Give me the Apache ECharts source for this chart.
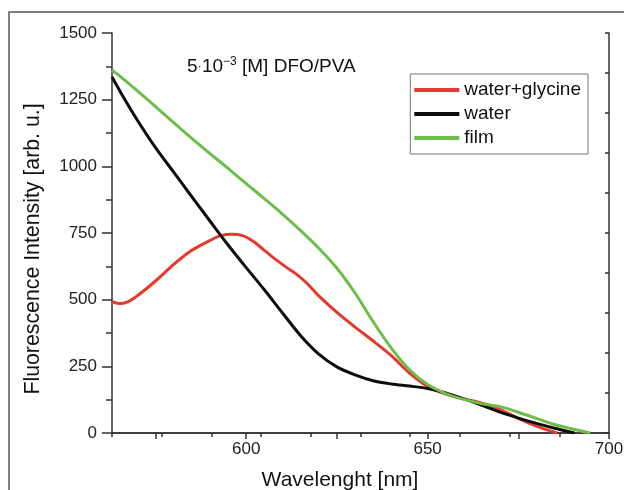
<!DOCTYPE html>
<html>
<head>
<meta charset="utf-8">
<script src="https://cdn.jsdelivr.net/npm/echarts@6/dist/echarts.min.js"></script>
<style>
  html, body { margin: 0; padding: 0; background: #fff; }
  #chart { width: 624px; height: 490px; }
</style>
</head>
<body>
<div id="chart"></div>
<script>
// values
const seriesNames = ['water+glycine', 'water', 'film'];

const glycineX = [563, 565, 567, 570, 575, 580, 585, 590, 593, 596, 599, 602, 605, 608, 611, 614, 617, 620, 625, 630, 635, 640, 645, 650, 655, 660, 665, 670, 675, 680, 685.7];
const glycineY = [492, 486, 490, 515, 570, 632, 685, 722, 740, 745, 740, 718, 685, 652, 622, 594, 558, 514, 452, 397, 345, 290, 225, 175, 146, 128, 112, 88, 55, 26, 0];

const waterX = [563, 566, 570, 575, 580, 585, 590, 595, 600, 605, 610, 615, 620, 625, 630, 635, 640, 645, 650, 655, 660, 665, 670, 675, 680, 685, 690.5];
const waterY = [1335, 1263, 1173, 1070, 978, 886, 795, 705, 620, 537, 450, 365, 296, 248, 218, 196, 184, 176, 167, 150, 128, 104, 78, 56, 36, 18, 0];

const filmX = [563, 565, 570, 575, 580, 585, 590, 595, 600, 605, 610, 615, 620, 625, 630, 635, 640, 645, 650, 655, 660, 665, 670, 675, 680, 685, 690, 694.8];
const filmY = [1362, 1340, 1283, 1224, 1164, 1105, 1048, 992, 935, 879, 821, 759, 693, 618, 525, 417, 318, 237, 182, 148, 126, 110, 99, 78, 55, 32, 15, 0];

const xTickValues = [575, 600, 625, 650, 675, 700];
const xLabelValues = [600, 650, 700];

const colors = ['#e5392e', '#0d0d0d', '#6cbd4a'];

const pairs = (xs, ys) => xs.map((x, i) => [x, ys[i]]);
const seriesData = [pairs(glycineX, glycineY), pairs(waterX, waterY), pairs(filmX, filmY)];

const chart = echarts.init(document.getElementById('chart'));
const fontFamily = '"Liberation Sans", Arial, sans-serif';
const axisColor = '#333';

const option = {
  backgroundColor: '#fff',
  animation: false,
  textStyle: { fontFamily: fontFamily },
  grid: { left: 112, right: 15, top: 33, bottom: 57, outerBoundsMode: 'none' },
  legend: {
    data: seriesNames,
    orient: 'vertical',
    right: 36,
    top: 74,
    icon: 'rect',
    itemWidth: 45,
    itemHeight: 4,
    itemGap: 4,
    padding: [6, 7, 6, 4],
    borderColor: '#777',
    borderWidth: 1,
    textStyle: { fontSize: 19, color: '#111', lineHeight: 20 }
  },
  graphic: [
    {
      type: 'rect',
      shape: { x: 9, y: 12, width: 700, height: 600 },
      style: { fill: 'none', stroke: '#555', lineWidth: 1.5 },
      silent: true
    },
    {
      type: 'text',
      left: 187,
      top: 56,
      style: {
        text: '5{dot|·}10{sup|−3} [M] DFO/PVA',
        font: '19px ' + fontFamily,
        fill: '#111',
        rich: {
          dot: { fontSize: 13, fill: '#111' },
          sup: { fontSize: 12, fill: '#111', verticalAlign: 'top', padding: [0, 0, 9, 0] }
        }
      }
    }
  ],
  xAxis: [
    {
      type: 'value',
      min: 563,
      max: 700,
      position: 'bottom',
      name: 'Wavelenght [nm]',
      nameLocation: 'middle',
      nameGap: 37,
      nameTextStyle: { fontSize: 21, color: '#111', padding: [0, 41, 0, 0] },
      axisLine: { show: true, lineStyle: { color: axisColor, width: 1.5 } },
      axisTick: { show: true, length: 6, customValues: xTickValues, lineStyle: { color: axisColor, width: 1.5 } },
      axisLabel: { customValues: xLabelValues, fontSize: 17, color: '#222', margin: 8 },
      splitLine: { show: false }
    },
    {
      type: 'value',
      min: 0,
      max: 10,
      interval: 1,
      position: 'top',
      axisLine: { show: true, lineStyle: { color: axisColor, width: 1.5 } },
      axisTick: { show: true, inside: true, length: 4, lineStyle: { color: axisColor, width: 1.5 } },
      axisLabel: { show: false },
      splitLine: { show: false }
    }
  ],
  yAxis: [
    {
      type: 'value',
      min: 0,
      max: 1500,
      interval: 250,
      position: 'left',
      name: 'Fluorescence Intensity [arb. u.]',
      nameLocation: 'middle',
      nameGap: 68,
      nameTextStyle: { fontSize: 21.3, color: '#111', padding: [0, 32, 0, 0] },
      axisLine: { show: true, lineStyle: { color: axisColor, width: 1.5 } },
      axisTick: { show: true, length: 10, lineStyle: { color: axisColor, width: 1.5 } },
      minorTick: { show: true, splitNumber: 2, length: 6, lineStyle: { color: axisColor, width: 1.5 } },
      axisLabel: { fontSize: 17, color: '#222', margin: 15, formatter: v => String(v) },
      splitLine: { show: false },
      minorSplitLine: { show: false }
    },
    {
      type: 'value',
      min: 0,
      max: 10,
      interval: 1,
      position: 'right',
      axisLine: { show: true, lineStyle: { color: axisColor, width: 1.5 } },
      axisTick: { show: true, inside: true, length: 4, lineStyle: { color: axisColor, width: 1.5 } },
      axisLabel: { show: false },
      splitLine: { show: false }
    }
  ],
  series: seriesNames.map((name, i) => ({
    name: name,
    type: 'line',
    xAxisIndex: 0,
    yAxisIndex: 0,
    data: seriesData[i],
    smooth: 0.3,
    showSymbol: false,
    color: colors[i],
    lineStyle: { width: 3, color: colors[i] },
    z: i === 2 ? 3 : 2
  }))
};

chart.setOption(option);
</script>
</body>
</html>
